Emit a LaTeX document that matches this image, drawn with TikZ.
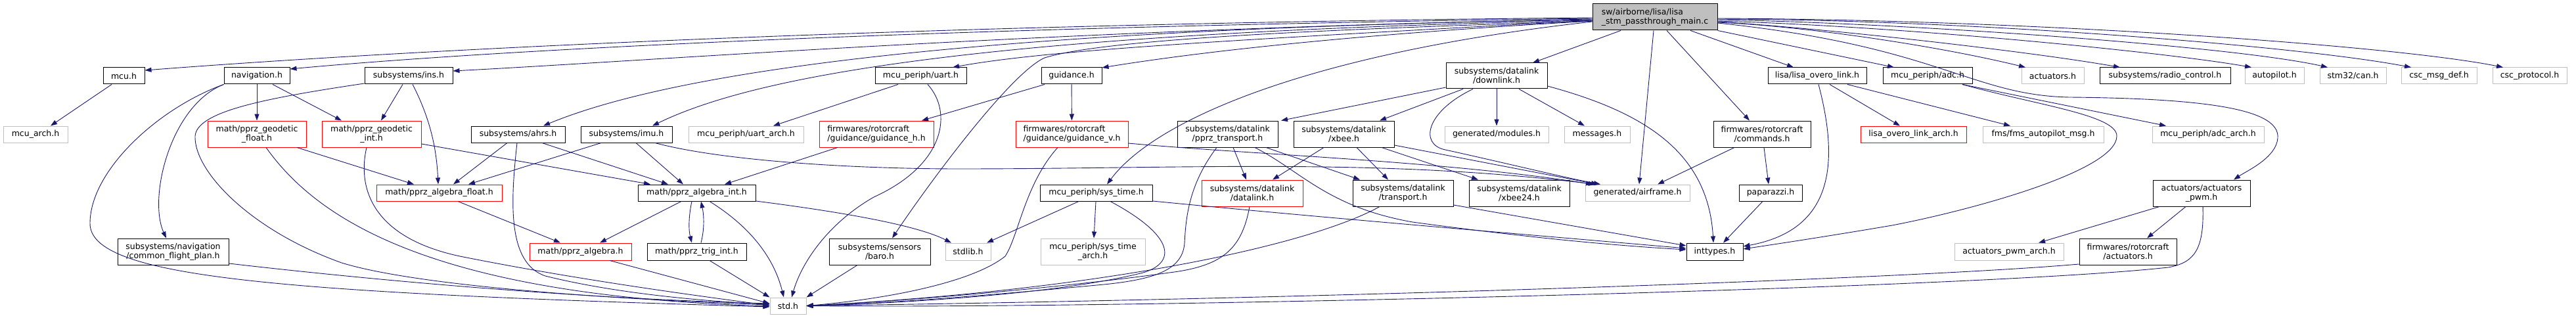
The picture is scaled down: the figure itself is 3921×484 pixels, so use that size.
\documentclass[tikz,border=0pt]{standalone}
\usepackage{fontspec}
\setmainfont{DejaVu Sans}
\usetikzlibrary{arrows.meta}
\definecolor{edgec}{HTML}{191970}
\definecolor{grayb}{HTML}{BFBFBF}
\definecolor{redb}{HTML}{FF0000}
\newcommand\nd[7]{\node[#1,minimum width={(#5-#3)*1pt},minimum height={(#6-#4)*1pt}] (#2) at ({(#3+#5)/2},{(#4+#6)/2}) {#7};}
\begin{document}
\begin{tikzpicture}[x=1pt,y=-1pt,
  bx/.style={rectangle,inner sep=0pt,line width=1pt,fill=white,font=\fontsize{12.5}{14}\selectfont,align=center},
  bbx/.style={bx,draw=black},
  gbx/.style={bx,draw=grayb},
  rbx/.style={bx,draw=redb},
  mbx/.style={bx,draw=black,fill=grayb,align=left},
  ln/.style={draw=edgec,line width=0.9pt,-{Triangle[length=10pt,width=7pt,fill=edgec]}}]
\useasboundingbox (0,0) rectangle (3921,484);
% nodes
\nd{mbx}{main}{2424}{6}{2614}{46}{sw/airborne/lisa/lisa\\\_stm\_passthrough\_main.c}
\nd{bbx}{mcu}{157}{103}{220}{128}{mcu.h}
\nd{bbx}{nav}{341}{103}{441}{128}{navigation.h}
\nd{gbx}{mcuarch}{5}{192}{103}{217}{mcu\_arch.h}
\nd{rbx}{geof}{316}{184}{466}{224}{math/pprz\_geodetic\\\_float.h}
\nd{bbx}{cfp}{179}{363}{348}{403}{subsystems/navigation\\/common\_flight\_plan.h}
\nd{bbx}{ins}{555}{103}{689}{128}{subsystems/ins.h}
\nd{rbx}{geoi}{490}{184}{641}{224}{math/pprz\_geodetic\\\_int.h}
\nd{bbx}{ahrs}{717}{192}{860}{217}{subsystems/ahrs.h}
\nd{bbx}{imu}{884}{192}{1023}{217}{subsystems/imu.h}
\nd{rbx}{algf}{573}{281}{764}{306}{math/pprz\_algebra\_float.h}
\nd{rbx}{alg}{806}{370}{961}{396}{math/pprz\_algebra.h}
\nd{bbx}{algi}{971}{281}{1150}{306}{math/pprz\_algebra\_int.h}
\nd{bbx}{trig}{985}{370}{1136}{396}{math/pprz\_trig\_int.h}
\nd{gbx}{std}{1172}{453}{1227}{478}{std.h}
\nd{bbx}{baro}{1262}{363}{1416}{403}{subsystems/sensors\\/baro.h}
\nd{gbx}{stdlib}{1439}{370}{1508}{396}{stdlib.h}
\nd{bbx}{uart}{1332}{103}{1471}{128}{mcu\_periph/uart.h}
\nd{gbx}{uarta}{1048}{192}{1223}{217}{mcu\_periph/uart\_arch.h}
\nd{rbx,align=left}{guih}{1247}{184}{1421}{224}{firmwares/rotorcraft\\/guidance/guidance\_h.h}
\nd{bbx}{guid}{1585}{103}{1677}{128}{guidance.h}
\nd{rbx,align=left}{guiv}{1546}{184}{1717}{224}{firmwares/rotorcraft\\/guidance/guidance\_v.h}
\nd{bbx}{pprzt}{1792}{184}{1945}{224}{subsystems/datalink\\/pprz\_transport.h}
\nd{bbx}{systime}{1583}{281}{1754}{306}{mcu\_periph/sys\_time.h}
\nd{gbx}{systa}{1584}{363}{1743}{403}{mcu\_periph/sys\_time\\\_arch.h}
\nd{rbx}{dl}{1829}{274}{1983}{314}{subsystems/datalink\\/datalink.h}
\nd{bbx}{down}{2201}{96}{2355}{135}{subsystems/datalink\\/downlink.h}
\nd{bbx}{xbee}{1969}{184}{2122}{224}{subsystems/datalink\\/xbee.h}
\nd{gbx}{mods}{2199}{192}{2357}{217}{generated/modules.h}
\nd{gbx}{msgs}{2381}{192}{2481}{217}{messages.h}
\nd{bbx}{transp}{2059}{274}{2212}{314}{subsystems/datalink\\/transport.h}
\nd{bbx}{xbeeb}{2236}{274}{2389}{314}{subsystems/datalink\\/xbee24.h}
\nd{bbx}{lol}{2691}{103}{2841}{128}{lisa/lisa\_overo\_link.h}
\nd{bbx}{adc}{2866}{103}{3002}{128}{mcu\_periph/adc.h}
\nd{gbx}{airf}{2413}{281}{2572}{306}{generated/airframe.h}
\nd{bbx}{cmds}{2608}{184}{2756}{224}{firmwares/rotorcraft\\/commands.h}
\nd{bbx}{papa}{2647}{281}{2743}{306}{paparazzi.h}
\nd{bbx}{intt}{2567}{370}{2653}{396}{inttypes.h}
\nd{rbx}{lola}{2832}{192}{2993}{217}{lisa\_overo\_link\_arch.h}
\nd{gbx}{act}{3077}{103}{3172}{128}{actuators.h}
\nd{bbx}{rc}{3196}{103}{3395}{128}{subsystems/radio\_control.h}
\nd{gbx}{fms}{3018}{192}{3202}{217}{fms/fms\_autopilot\_msg.h}
\nd{gbx}{adca}{3276}{192}{3446}{217}{mcu\_periph/adc\_arch.h}
\nd{bbx}{pwm}{3277}{274}{3425}{314}{actuators/actuators\\\_pwm.h}
\nd{gbx}{pwma}{2975}{370}{3141}{396}{actuators\_pwm\_arch.h}
\nd{bbx}{fwact}{3165}{363}{3313}{403}{firmwares/rotorcraft\\/actuators.h}
\nd{gbx}{ap}{3417}{103}{3507}{128}{autopilot.h}
\nd{gbx}{can}{3531}{103}{3632}{128}{stm32/can.h}
\nd{gbx}{cscm}{3655}{103}{3770}{128}{csc\_msg\_def.h}
\nd{gbx}{cscp}{3794}{103}{3907}{128}{csc\_protocol.h}
% edges from main, leftwards
\draw[ln] (main.west |- 0,27) .. controls (1500,35) and (700,70) .. (mcu.east |- 0,107);
\draw[ln] (main.west |- 0,28) .. controls (1500,40) and (800,72) .. (nav.east |- 0,105);
\draw[ln] (main.west |- 0,29) .. controls (1600,45) and (1000,92) .. (ins.east |- 0,108);
\draw[ln] (main.west |- 0,30) .. controls (1400,45) and (1000,120) .. (ahrs.north -| 827,0);
\draw[ln] (main.west |- 0,31) .. controls (1500,50) and (1150,115) .. (imu.north -| 993,0);
\draw[ln] (main.west |- 0,31) .. controls (1900,60) and (1600,75) .. (uart.north -| 1450,0);
\draw[ln] (main.west |- 0,32) .. controls (2100,50) and (1850,75) .. (guid.east |- 0,103);
\draw[ln] (main.west |- 0,33) .. controls (2000,80) and (1760,180) .. (systime.north -| 1685,0);
\draw[ln] (main.west |- 0,32) .. controls (2000,45) and (1680,60) .. (1590,88) .. controls (1540,110) and (1420,270) .. (baro.north -| 1358,0);
\draw[ln] (main.south -| 2467,0) -- (down.north -| 2333,0);
\draw[ln] (main.south -| 2517,0) -- (airf.north -| 2495,0);
\draw[ln] (main.south -| 2537,0) -- (cmds.north -| 2663,0);
\draw[ln] (main.south -| 2573,0) -- (lol.north -| 2730,0);
\draw[ln] (main.south east) -- (adc.north -| 2883,0);
% edges from main, rightwards
\draw[ln] (main.east |- 0,34) .. controls (2750,40) and (2950,70) .. (act.north -| 3083,0);
\draw[ln] (main.east |- 0,33) .. controls (2800,45) and (3100,80) .. (rc.north -| 3227,0);
\draw[ln] (main.east |- 0,32) .. controls (2900,40) and (3300,80) .. (ap.north -| 3427,0);
\draw[ln] (main.east |- 0,30) .. controls (2900,35) and (3400,70) .. (can.north -| 3543,0);
\draw[ln] (main.east |- 0,29) .. controls (3000,30) and (3500,70) .. (cscm.north -| 3670,0);
\draw[ln] (main.east |- 0,28) .. controls (3100,30) and (3650,70) .. (cscp.north -| 3810,0);
\draw[ln] (main.east |- 0,35) .. controls (2950,70) and (3000,145) .. (3150,148) .. controls (3380,150) and (3470,170) .. (3467,210) .. controls (3465,240) and (3420,260) .. (pwm.north -| 3400,0);
% navigation, mcu
\draw[ln] (nav) -- (geof);
\draw[ln] (nav.south -| 415,0) -- (geoi.north -| 520,0);
\draw[ln] (nav.south west) .. controls (260,160) and (225,300) .. (cfp.north -| 253,0);
\draw[ln] (nav.south west) .. controls (240,165) and (137,260) .. (137,340) .. controls (137,420) and (400,445) .. (std.west |- 0,467);
\draw[ln] (mcu.south -| 170,0) -- (mcuarch.north -| 77,0);
% geodetic
\draw[ln] (geof.south -| 452,0) -- (algf.north -| 630,0);
\draw[ln] (geof.south -| 405,0) .. controls (480,330) and (650,450) .. (std.west |- 0,466);
\draw[ln] (geoi.east |- 0,219) -- (algi.north -| 990,0);
\draw[ln] (geoi.south -| 558,0) .. controls (545,280) and (560,360) .. (700,390) .. controls (900,430) and (1100,455) .. (std.west |- 0,465);
% ins
\draw[ln] (ins.south -| 613,0) -- (geoi.north -| 580,0);
\draw[ln] (ins.south -| 628,0) .. controls (660,190) and (665,240) .. (algf.north -| 667,0);
\draw[ln] (ins.west |- 0,127) .. controls (400,150) and (300,170) .. (297,207) .. controls (295,260) and (380,350) .. (520,400) .. controls (650,440) and (1000,458) .. (std.west |- 0,464);
% ahrs, imu
\draw[ln] (ahrs.south -| 772,0) -- (algf.north -| 690,0);
\draw[ln] (ahrs.south -| 787,0) .. controls (778,300) and (770,400) .. (830,420) .. controls (950,450) and (1100,460) .. (std.west |- 0,463);
\draw[ln] (ahrs.south -| 825,0) -- (algi.north -| 1017,0);
\draw[ln] (imu.south -| 915,0) -- (algf.north -| 713,0);
\draw[ln] (imu.south -| 968,0) -- (algi.north -| 1040,0);
\draw[ln] (imu.south -| 997,0) .. controls (1100,245) and (1300,257) .. (1460,257) .. controls (1800,257) and (2100,240) .. (airf.north -| 2428,0);
% algebra
\draw[ln] (algf.south -| 697,0) -- (alg.north -| 853,0);
\draw[ln] (algi.south -| 1037,0) -- (alg.north -| 913,0);
\draw[ln] (algi.south -| 1053,0) .. controls (1048,330) and (1048,350) .. (trig.north -| 1053,0);
\draw[ln] (trig.north -| 1067,0) .. controls (1072,350) and (1072,330) .. (algi.south -| 1067,0);
\draw[ln] (algi.south -| 1080,0) .. controls (1150,350) and (1180,400) .. (std.north -| 1193,0);
\draw[ln] (algi.east |- 0,306) .. controls (1300,325) and (1400,345) .. (stdlib.north -| 1448,0);
\draw[ln] (alg.south -| 928,0) -- (std.west |- 0,462);
\draw[ln] (trig.south -| 1080,0) -- (std.north west);
\draw[ln] (baro.south -| 1305,0) -- (std.north east);
% uart, guidance
\draw[ln] (uart.south -| 1367,0) -- (uarta.north -| 1177,0);
\draw[ln] (uart.south -| 1412,0) .. controls (1450,170) and (1440,250) .. (1330,300) .. controls (1260,340) and (1220,400) .. (std.north -| 1205,0);
\draw[ln] (guid) -- (guiv);
\draw[ln] (guid.south -| 1590,0) -- (guih.north -| 1403,0);
\draw[ln] (guih.south -| 1275,0) -- (algi.north -| 1103,0);
\draw[ln] (guiv.south -| 1610,0) .. controls (1560,280) and (1550,360) .. (1530,390) .. controls (1480,430) and (1350,455) .. (std.east);
\draw[ln] (guiv.east |- 0,218) .. controls (1900,235) and (2200,245) .. (airf.north -| 2424,0);
% sys_time
\draw[ln] (systime.south -| 1642,0) -- (stdlib.north -| 1502,0);
\draw[ln] (systime.south -| 1668,0) -- (systa.north -| 1665,0);
\draw[ln] (systime.south -| 1690,0) .. controls (1790,360) and (1790,400) .. (1740,415) .. controls (1600,450) and (1350,462) .. (std.east);
\draw[ln] (systime.east |- 0,306) .. controls (2000,330) and (2300,355) .. (intt.west |- 0,378);
% datalink
\draw[ln] (pprzt.south -| 1877,0) -- (dl.north -| 1897,0);
\draw[ln] (pprzt.south -| 1852,0) .. controls (1810,280) and (1805,330) .. (1803,370) .. controls (1800,410) and (1760,425) .. (1680,433) .. controls (1500,450) and (1350,462) .. (std.east);
\draw[ln] (pprzt.south -| 1927,0) -- (transp.north -| 2070,0);
\draw[ln] (pprzt.south -| 1910,0) .. controls (1980,260) and (2020,315) .. (2150,338) .. controls (2350,365) and (2480,375) .. (intt.west |- 0,380);
\draw[ln] (dl.south -| 1902,0) .. controls (1890,380) and (1860,405) .. (1780,415) .. controls (1600,440) and (1350,460) .. (std.east);
\draw[ln] (transp.south -| 2100,0) .. controls (2000,370) and (1700,440) .. (std.east);
\draw[ln] (transp.east |- 0,312) -- (intt.west |- 0,374);
\draw[ln] (xbee.south -| 2015,0) -- (dl.north -| 1937,0);
\draw[ln] (xbee.south -| 2065,0) -- (transp.north -| 2113,0);
\draw[ln] (xbee.south -| 2103,0) -- (xbeeb.north -| 2250,0);
\draw[ln] (xbee.east |- 0,221) -- (airf.north -| 2432,0);
\draw[ln] (down.west |- 0,133) -- (pprzt.north -| 1950,0);
\draw[ln] (down.south -| 2227,0) -- (xbee.north -| 2100,0);
\draw[ln] (down.south -| 2242,0) .. controls (2170,170) and (2160,220) .. (2200,228) .. controls (2300,250) and (2380,270) .. (airf.north -| 2436,0);
\draw[ln] (down) -- (mods);
\draw[ln] (down.south -| 2312,0) -- (msgs.north -| 2412,0);
\draw[ln] (down.east |- 0,131) .. controls (2500,170) and (2600,230) .. (intt.north -| 2608,0);
% commands, lisa, adc
\draw[ln] (cmds.south -| 2640,0) -- (airf.north -| 2523,0);
\draw[ln] (cmds.south -| 2685,0) -- (papa.north -| 2692,0);
\draw[ln] (papa.south -| 2683,0) -- (intt.north -| 2623,0);
\draw[ln] (lol.south -| 2768,0) .. controls (2800,250) and (2790,350) .. (intt.east |- 0,375);
\draw[ln] (lol.south -| 2785,0) -- (lola.north -| 2892,0);
\draw[ln] (lol.south -| 2812,0) -- (fms.north -| 3060,0);
\draw[ln] (adc.south -| 2987,0) -- (adca.north -| 3297,0);
\draw[ln] (adc.south -| 2987,0) .. controls (3100,160) and (3222,175) .. (3222,207) .. controls (3222,260) and (3000,320) .. (2880,343) .. controls (2780,360) and (2700,372) .. (intt.east |- 0,379);
% actuators
\draw[ln] (pwm.south -| 3287,0) -- (pwma.north -| 3103,0);
\draw[ln] (pwm.south -| 3327,0) -- (fwact.north -| 3268,0);
\draw[ln] (pwm.south -| 3353,0) .. controls (3355,380) and (3340,400) .. (3300,407) .. controls (3000,440) and (1700,470) .. (std.east);
\draw[ln] (fwact.west |- 0,402) .. controls (2900,425) and (2000,455) .. (std.east);
\draw[ln] (cfp.east |- 0,401) .. controls (600,430) and (900,455) .. (std.west |- 0,462);
\end{tikzpicture}
\end{document}
